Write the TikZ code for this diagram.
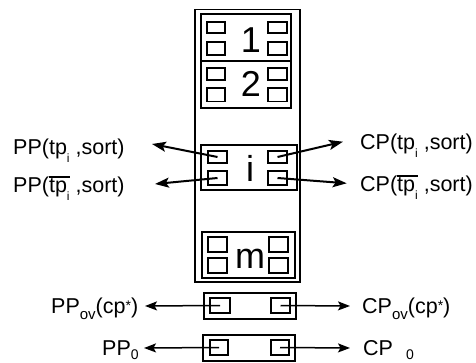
\documentclass[tikz,border=0pt]{standalone}
\usepackage{fontspec}
\setmainfont{Liberation Sans}
\usetikzlibrary{arrows.meta}
\newcommand\sbi[1]{\raisebox{-8pt}{\fontsize{12}{12}\selectfont #1}}
\newcommand\sbo[1]{\raisebox{-6.5pt}{\fontsize{15}{15}\selectfont #1}}
\newcommand\sbz[1]{\raisebox{-4pt}{\fontsize{14}{14}\selectfont #1}}
\newcommand\ovl[1]{\vbox{\hrule height 1.8pt\kern 1.5pt\hbox{#1}}}
\newcommand\astr{\raisebox{3pt}{\fontsize{14}{14}\selectfont *}}
\begin{document}
\begin{tikzpicture}[x=1pt,y=-1pt,
 outerbox/.style={draw, line width=1.8pt, inner sep=0pt, outer sep=0pt},
 slot/.style={draw, line width=2.5pt, inner sep=0pt, outer sep=0pt},
 sq/.style={draw, line width=1.8pt, inner sep=0pt, outer sep=0pt},
 lab/.style={font=\fontsize{21.5}{24}\selectfont, inner sep=0pt, anchor=base west},
 big/.style={font=\fontsize{36}{40}\selectfont, inner sep=0pt, anchor=base},
 arr/.style={line width=2pt, -{Stealth[length=14pt,width=10pt,inset=3pt]}},
 arrb/.style={line width=1.5pt, -{Stealth[length=12pt,width=9pt,inset=2.5pt]}}]
\useasboundingbox (0,0) rectangle (476,363);
% outer frame
\node[outerbox, minimum width=105pt, minimum height=272.5pt] (outer) at (247.5,145.75) {};
% slots
\node[slot, minimum width=90pt, minimum height=47pt] (b1) at (246,37.5) {};
\node[slot, minimum width=90pt, minimum height=47pt] (b2) at (246,84.5) {};
\node[slot, minimum width=96pt, minimum height=45pt] (bi) at (249,167.5) {};
\node[slot, minimum width=93pt, minimum height=46pt] (bm) at (248.5,255) {};
\node[slot, minimum width=92pt, minimum height=26pt] (bov) at (250,306) {};
\node[slot, minimum width=92pt, minimum height=26pt] (bz) at (249,348) {};
% squares box 1
\node[sq, minimum width=18pt, minimum height=11.5pt] (s1a) at (216,27.5) {};
\node[sq, minimum width=18pt, minimum height=13pt] (s1b) at (216,48.5) {};
\node[sq, minimum width=19pt, minimum height=11.5pt] (s1c) at (277.5,27.5) {};
\node[sq, minimum width=19pt, minimum height=13pt] (s1d) at (277.5,48.5) {};
% squares box 2
\node[sq, minimum width=18pt, minimum height=12pt] (s2a) at (216,74) {};
\node[sq, minimum width=18pt, minimum height=13.5pt] (s2b) at (216,94.75) {};
\node[sq, minimum width=19pt, minimum height=12pt] (s2c) at (277.5,74) {};
\node[sq, minimum width=19pt, minimum height=13.5pt] (s2d) at (277.5,94.75) {};
% squares box i
\node[sq, minimum width=19pt, minimum height=12pt] (sia) at (217.5,157) {};
\node[sq, minimum width=19pt, minimum height=14pt] (sib) at (217.5,178) {};
\node[sq, minimum width=19pt, minimum height=12pt] (sic) at (277.5,157) {};
\node[sq, minimum width=19pt, minimum height=14pt] (sid) at (277.5,178) {};
% squares box m
\node[sq, minimum width=19pt, minimum height=15pt] (sma) at (217.5,244.5) {};
\node[sq, minimum width=19pt, minimum height=15pt] (smb) at (217.5,265.5) {};
\node[sq, minimum width=19pt, minimum height=15pt] (smc) at (278.5,244.5) {};
\node[sq, minimum width=19pt, minimum height=15pt] (smd) at (278.5,265.5) {};
% squares ov / 0
\node[sq, minimum width=20pt, minimum height=15pt] (sova) at (220,305.5) {};
\node[sq, minimum width=19pt, minimum height=15pt] (sovb) at (280.5,305.5) {};
\node[sq, minimum width=18pt, minimum height=15pt] (sza) at (219,347.5) {};
\node[sq, minimum width=18pt, minimum height=15pt] (szb) at (280,347.5) {};
% big labels
\node[big] (n1) at (251,53) {1};
\node[big] (n2) at (251,96.7) {2};
\node[big] (ni) at (250,182) {i};
\node[big] (nm) at (250,269) {m};
% text labels
\node[lab] (L1) at (13,155) {PP(tp\sbi{i} ,sort)};
\node[lab] (L2) at (13,193) {PP(\ovl{tp\sbi{i}} ,sort)};
\node[lab] (R1) at (360,150) {CP(tp\sbi{i} ,sort)};
\node[lab] (R2) at (360,192) {CP(\ovl{tp\sbi{i}} ,sort)};
\node[lab] (Lov) at (51,313) {PP\sbo{ov}(cp\astr)};
\node[lab] (Rov) at (362,313) {CP\sbo{ov}(cp\astr)};
\node[lab] (Lz) at (102,355) {PP\sbz{0}};
\node[lab] (Rz) at (363,355) {CP\hspace{13pt}\sbz{0}};
% arrow tips
\coordinate (t1) at (152,144);
\coordinate (t2) at (155,184);
\coordinate (t3) at (343,141.7);
\coordinate (t4) at (346.7,183.3);
\coordinate (t5) at (145,306);
\coordinate (t6) at (350,306);
\coordinate (t7) at (144,348);
\coordinate (t8) at (350,348);
% arrows
\draw[arr] (sia.center) -- (t1);
\draw[arr] (sib.center) -- (t2);
\draw[arr] (sic.center) -- (t3);
\draw[arr] (sid.center) -- (t4);
\draw[arrb] (sova.center) -- (t5);
\draw[arrb] (sovb.center) -- (t6);
\draw[arrb] (sza.center) -- (t7);
\draw[arrb] (szb.center) -- (t8);
\end{tikzpicture}
\end{document}
